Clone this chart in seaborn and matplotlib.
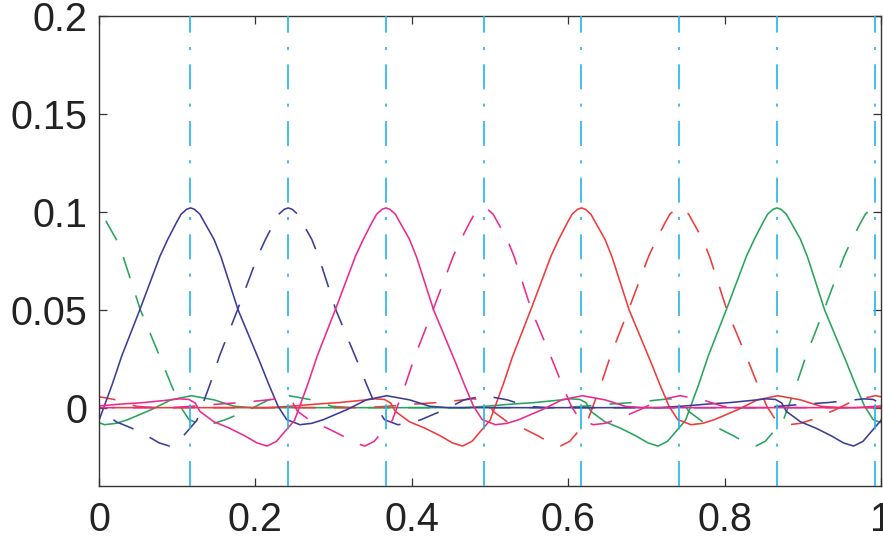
import numpy as np
import pandas as pd
import matplotlib
matplotlib.use("Agg")
import matplotlib.pyplot as plt
import seaborn as sns

# Shared shape of one periodic basis function: offset from its centre -> value
offsets = [-0.5, -0.4, -0.37, -0.34, -0.31, -0.285, -0.264, -0.252, -0.244,
           -0.238, -0.22, -0.2, -0.18, -0.165, -0.152, -0.14, -0.13, -0.117,
           -0.111, -0.1, -0.088, -0.065, -0.039, -0.029, -0.018, -0.012,
           -0.005, 0.0, 0.005, 0.012, 0.018, 0.03, 0.039, 0.061, 0.089, 0.1,
           0.112, 0.123, 0.14, 0.155, 0.17, 0.2, 0.225, 0.251, 0.28, 0.306,
           0.33, 0.4, 0.5]
profile = [0.0, 0.0, 0.0008, 0.0018, 0.0026, 0.0036, 0.0045, 0.0042, 0.0024,
           -0.0019, -0.0072, -0.0105, -0.0145, -0.018, -0.0196, -0.0172,
           -0.0125, -0.0065, 0.0, 0.012, 0.0263, 0.0498, 0.0774, 0.086,
           0.0945, 0.0988, 0.1013, 0.102, 0.1013, 0.0988, 0.0945, 0.086,
           0.0770, 0.0498, 0.023, 0.012, 0.0007, -0.0061, -0.0087, -0.008,
           -0.0061, -0.001, 0.004, 0.0061, 0.004, 0.0007, 0.0, 0.0, 0.0]

# Centres of the solid and dashed functions, one pair per colour
series_names = ["green", "red", "blue", "magenta"]
solid_centres = [0.867, 0.617, 0.117, 0.367]
dashed_centres = [0.992, 0.742, 0.242, 0.492]
palette = {"blue": "#3b3c98", "magenta": "#ec2a8e",
           "red": "#ef3b3b", "green": "#27a55c"}

# Nodes marked by vertical dash-dot lines
node_positions = [0.117, 0.242, 0.367, 0.492, 0.617, 0.742, 0.867, 0.992]

x_ticks = [0, 0.2, 0.4, 0.6, 0.8, 1]
x_tick_labels = ["0", "0.2", "0.4", "0.6", "0.8", "1"]
y_ticks = [0, 0.05, 0.1, 0.15, 0.2]
y_tick_labels = ["0", "0.05", "0.1", "0.15", "0.2"]

sns.set_theme(style="white")
plt.rcParams["font.family"] = ["Liberation Sans", "DejaVu Sans"]
plt.rcParams["lines.scale_dashes"] = False

fig = plt.figure(figsize=(8.83, 5.42), dpi=100)
ax = fig.add_axes([99 / 883, 1 - 486 / 542, 782 / 883, 470 / 542])

off = np.asarray(offsets)
prof = np.asarray(profile)


def periodic_frame(centre):
    # three neighbouring periods so the curve wraps across [0, 1]
    xs = np.concatenate([centre - 1 + off, centre + off, centre + 1 + off])
    ys = np.concatenate([prof, prof, prof])
    keep = (xs >= -0.03) & (xs <= 1.03)
    return pd.DataFrame({"x": xs[keep], "y": ys[keep]})


for name, cs, cd in zip(series_names, solid_centres, dashed_centres):
    col = palette[name]
    sns.lineplot(data=periodic_frame(cs), x="x", y="y", ax=ax, sort=False,
                 estimator=None, color=col, linewidth=1.15)
    sns.lineplot(data=periodic_frame(cd), x="x", y="y", ax=ax, sort=False,
                 estimator=None, color=col, linewidth=1.15,
                 linestyle=(0, (16, 13)))

for xv in node_positions:
    ax.axvline(xv, color="#22b4ec", linewidth=1.2,
               linestyle=(0, (18, 10.3, 2.2, 10.3)), zorder=5)

ax.set_xlim(0, 1)
ax.set_ylim(-0.04, 0.2)
ax.set_xticks(x_ticks)
ax.set_xticklabels(x_tick_labels)
ax.set_yticks(y_ticks)
ax.set_yticklabels(y_tick_labels)
ax.set_xlabel("")
ax.set_ylabel("")

for side in ax.spines.values():
    side.set_visible(True)
    side.set_color("#333333")
    side.set_linewidth(1.0)

ax.tick_params(axis="both", direction="in", length=6, width=0.9,
               color="#333333", labelsize=28.5, labelcolor="#222222",
               top=True, right=True, bottom=True, left=True)
ax.tick_params(axis="x", pad=10.5)
ax.tick_params(axis="y", pad=8.5)
ax.set_facecolor("white")

fig.savefig("out.png", dpi=100, facecolor="white")
